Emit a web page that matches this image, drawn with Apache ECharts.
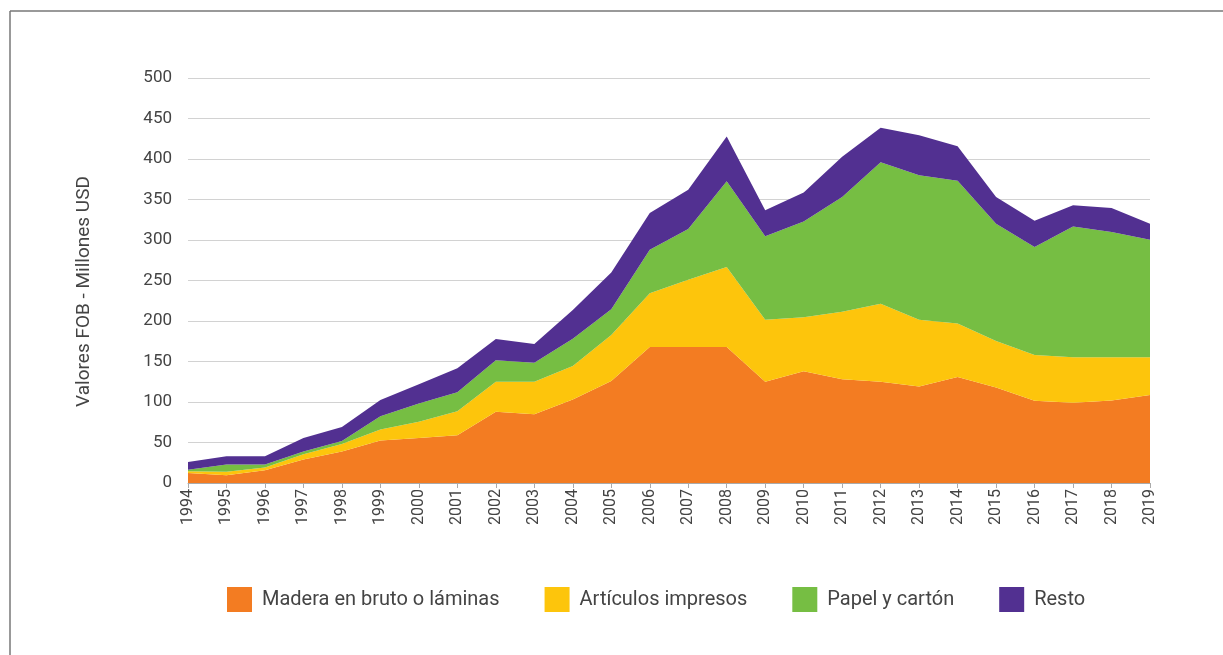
<!DOCTYPE html>
<html>
<head>
<meta charset="utf-8">
<script src="https://cdn.jsdelivr.net/npm/echarts@6/dist/echarts.min.js"></script>
<style>
html,body{margin:0;padding:0;background:#fff;}
#chart{width:1223px;height:655px;}
</style>
</head>
<body>
<div id="chart"></div>
<script>
const years = ['1994','1995','1996','1997','1998','1999','2000','2001','2002','2003','2004','2005','2006','2007','2008','2009','2010','2011','2012','2013','2014','2015','2016','2017','2018','2019'];
const madera = [12.4, 9.5, 15.7, 29, 39, 52.4, 55.7, 59, 88, 85, 103, 126, 168, 168, 168, 125, 138, 128, 125, 119, 131, 118, 101.5, 99, 102, 108.5];
const articulos = [2.1, 4.5, 3.3, 6.5, 9, 13.6, 19.8, 29.7, 37, 40, 41.4, 56.8, 66.4, 82.9, 98.6, 76.4, 66.7, 83.3, 96.2, 82.6, 66, 57.4, 56.5, 56.2, 53.2, 46.7];
const papel = [2, 8.7, 3.7, 3.5, 4, 16.5, 22.5, 23.2, 26.5, 23.5, 33.8, 31.8, 53.6, 62.7, 105.9, 103.1, 118.1, 141.9, 174.8, 178.2, 176.2, 144.8, 133.3, 161.6, 154.7, 145.2];
const resto = [9.5, 10.3, 10.3, 16.7, 17, 19.9, 23.8, 29.7, 26.3, 23.2, 35.5, 45.4, 45.4, 48.4, 55.3, 32.1, 35.7, 49.5, 42.6, 49.4, 42.4, 33, 32.6, 26, 29.7, 19.8];
const seriesNames = ['Madera en bruto o láminas', 'Artículos impresos', 'Papel y cartón', 'Resto'];
const colors = ['#F37C22', '#FDC50C', '#76BE43', '#523091'];
const yTicks = {min: 0, max: 500, interval: 50};

const font = 'Roboto, "DejaVu Sans", sans-serif';
const chart = echarts.init(document.getElementById('chart'));
const dataList = [madera, articulos, papel, resto];
chart.setOption({
  animation: false,
  backgroundColor: '#fff',
  color: colors,
  grid: {left: 188, right: 73, top: 78, bottom: 172, containLabel: false},
  legend: {
    left: 227, top: 587, padding: 0,
    icon: 'rect', itemWidth: 25, itemHeight: 25, itemGap: 45,
    textStyle: {fontFamily: font, fontSize: 20, color: '#444', padding: [0, 0, 0, 5]},
    data: seriesNames
  },
  graphic: [
    {type: 'line', shape: {x1: 10, y1: 11, x2: 1223, y2: 11}, style: {stroke: '#777', lineWidth: 1.5}},
    {type: 'line', shape: {x1: 10, y1: 11, x2: 10, y2: 655}, style: {stroke: '#777', lineWidth: 1.5}}
  ],
  xAxis: {
    type: 'category', boundaryGap: false, data: years,
    axisLine: {show: true, lineStyle: {color: '#aaa', width: 1}},
    axisTick: {show: true, alignWithLabel: true, length: 5, lineStyle: {color: '#aaa'}},
    axisLabel: {rotate: 90, interval: 0, margin: 6, fontFamily: font, fontSize: 16, color: '#444'},
    splitLine: {show: false}
  },
  yAxis: {
    type: 'value', min: yTicks.min, max: yTicks.max, interval: yTicks.interval,
    name: 'Valores FOB - Millones USD', nameLocation: 'middle', nameGap: 94,
    nameTextStyle: {fontFamily: font, fontSize: 19, color: '#444', padding: [0, 22, 0, 0]},
    axisLine: {show: false}, axisTick: {show: false},
    axisLabel: {margin: 16, fontFamily: font, fontSize: 17, color: '#444'},
    splitLine: {show: true, lineStyle: {color: '#d2d2d2', width: 1}}
  },
  series: dataList.map((d, i) => ({
    name: seriesNames[i], type: 'line', stack: 'total', data: d,
    symbol: 'none', lineStyle: {width: 0}, areaStyle: {color: colors[i], opacity: 1},
    itemStyle: {color: colors[i]}
  }))
});
</script>
</body>
</html>
